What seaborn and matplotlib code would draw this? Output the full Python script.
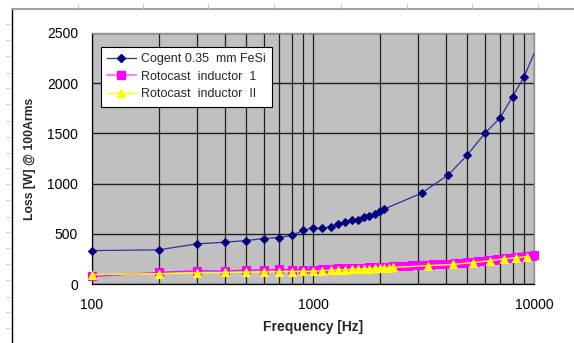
import matplotlib
matplotlib.use("Agg")
import matplotlib.pyplot as plt
import matplotlib.ticker as mticker
from matplotlib.lines import Line2D
import seaborn as sns

sns.set_style("white")
plt.rcParams["font.family"] = ["Liberation Sans", "DejaVu Sans"]

# Cogent 0.35 mm FeSi
freq_cogent = [100, 200, 300, 400, 500, 600, 700, 800, 900, 1000, 1100, 1200, 1300, 1400,
               1500, 1600, 1700, 1800, 1900, 2000, 2100, 3100, 4100, 5000, 6000, 7000,
               8000, 9000, 10000]
loss_cogent = [333, 340, 400, 416, 433, 453, 463, 483, 533, 560, 553, 572, 600, 618,
               636, 640, 667, 673, 700, 730, 746, 905, 1088, 1286, 1503, 1650,
               1866, 2060, 2293]

# Rotocast inductor 1
freq_roto1 = [100, 200, 300, 400, 500, 600, 700, 800, 900, 1000, 1100, 1200, 1300, 1400,
              1500, 1600, 1700, 1800, 1900, 2000, 2100, 2200, 2300,
              2400, 2500, 2600, 2700, 2800, 2900, 3000, 3100, 3200, 3300, 3400, 3500,
              3600, 3700, 3800, 3900, 4000,
              4200, 4400, 4600, 4800, 5000, 5200, 5400, 5600, 5800, 6000, 6200, 6400,
              6600, 6800, 7000, 7200, 7400, 7600, 7800, 8000, 8200, 8400, 8600, 8800,
              9000, 9200, 9400, 9600, 9800, 10000]
loss_roto1 = [75, 115, 132, 128, 138, 140, 145, 143, 143, 143, 147, 152, 155, 157,
              159, 161, 163, 165, 167, 169, 171, 174, 177,
              179, 181, 182, 184, 185, 187, 188, 190, 191, 193, 194, 195,
              196, 197, 198, 199, 200,
              203, 206, 209, 213, 216, 220, 223, 227, 230, 234, 237, 240,
              243, 246, 249, 252, 254, 257, 259, 262, 264, 266, 269, 271,
              273, 276, 278, 280, 282, 285]

# Rotocast inductor II
freq_roto2 = [100, 200, 300, 400, 500, 600, 700, 800, 900, 1000, 1100, 1200, 1300, 1400,
              1500, 1600, 1700, 1800, 1900, 2000, 2100, 2200, 2300, 3300, 4300, 5300,
              6300, 7300, 8300, 9300]
loss_roto2 = [93, 103, 110, 115, 118, 120, 122, 124, 126, 127, 132, 137, 140, 143,
              146, 149, 151, 153, 156, 158, 160, 162, 165, 183, 195, 214,
              232, 250, 261, 273]

fig = plt.figure(figsize=(5.74, 3.43), dpi=100)
ax = fig.add_axes([0.1603, 0.172, 0.770, 0.732])
ax.set_facecolor("#C0C0C0")

sns.lineplot(x=freq_cogent, y=loss_cogent, ax=ax, color="#30309A", linewidth=0.9,
             marker="D", markersize=4.5, markerfacecolor="#000080", markeredgecolor="#000080",
             markevery=list(range(len(freq_cogent) - 1)), zorder=5, clip_on=False)
sns.lineplot(x=freq_roto1, y=loss_roto1, ax=ax, color="#FF00FF", linewidth=1.0,
             marker="s", markersize=6, markerfacecolor="#FF00FF", markeredgecolor="#FF00FF",
             zorder=3, clip_on=False)
sns.lineplot(x=freq_roto2, y=loss_roto2, ax=ax, color="#FFFF00", linewidth=1.0,
             marker="^", markersize=6, markerfacecolor="#FFFF00", markeredgecolor="#FFFF00",
             zorder=4, clip_on=False)

ax.set_xscale("log")
ax.set_xlim(100, 10000)
ax.set_ylim(0, 2500)
ax.set_yticks([0, 500, 1000, 1500, 2000, 2500])
ax.xaxis.set_major_locator(mticker.FixedLocator([100, 1000, 10000]))
ax.xaxis.set_major_formatter(mticker.FixedFormatter(["100", "1000", "10000"]))
ax.xaxis.set_minor_locator(mticker.LogLocator(base=10, subs=range(2, 10)))
ax.xaxis.set_minor_formatter(mticker.NullFormatter())

ax.grid(True, which="major", axis="y", color="#202020", linewidth=1.0)
ax.grid(True, which="both", axis="x", color="#202020", linewidth=0.9)
ax.set_axisbelow(True)

ax.tick_params(axis="both", which="major", direction="out", length=4, width=0.8,
               labelsize=10, colors="black", pad=6)
ax.tick_params(axis="x", which="minor", length=0)
ax.tick_params(axis="x", which="major", pad=6)

for side in ["left", "bottom"]:
    ax.spines[side].set_color("black")
    ax.spines[side].set_linewidth(0.9)
for side in ["top", "right"]:
    ax.spines[side].set_color("#909090")
    ax.spines[side].set_linewidth(1.0)

ax.set_xlabel("Frequency [Hz]", fontsize=10, fontweight="bold", labelpad=6)
ax.set_ylabel("Loss [W] @ 100Arms", fontsize=8.8, fontweight="bold", labelpad=8)

handles = [
    Line2D([], [], color="#30309A", linewidth=0.9, marker="D", markersize=4.5,
           markerfacecolor="#000080", markeredgecolor="#000080"),
    Line2D([], [], color="#FF80FF", linewidth=1.5, marker="s", markersize=6,
           markerfacecolor="#FF00FF", markeredgecolor="#FF00FF"),
    Line2D([], [], color="#FFFF00", linewidth=1.0, marker="^", markersize=6,
           markerfacecolor="#FFFF00", markeredgecolor="#FFFF00"),
]
labels = ["Cogent 0.35  mm FeSi", "Rotocast  inductor  1", "Rotocast  inductor  II"]
leg = ax.legend(handles, labels, loc="upper left", bbox_to_anchor=(0.02, 0.944),
                fontsize=9, frameon=True, fancybox=False, framealpha=1,
                edgecolor="black", handlelength=2.3, labelspacing=0.45,
                borderpad=0.5, handletextpad=0.4, borderaxespad=0)
leg.get_frame().set_linewidth(0.8)

# worksheet frame around the chart
fig.add_artist(Line2D([12 / 574, 12 / 574], [0, 1 - 9 / 343], color="black",
                      linewidth=1.0, transform=fig.transFigure))
fig.add_artist(Line2D([12 / 574, 1], [1 - 9 / 343, 1 - 9 / 343], color="#A0A0A0",
                      linewidth=1.5, transform=fig.transFigure))
for ty in [24, 40, 56, 73, 88, 104, 121, 137, 153, 168, 184, 200, 217, 232, 248, 264,
           280, 297, 312, 328]:
    fig.add_artist(Line2D([6 / 574, 10 / 574], [1 - ty / 343, 1 - ty / 343],
                          color="#D0D0D0", linewidth=0.8, transform=fig.transFigure))
for tx in [78, 143, 208, 274, 341, 407, 472, 538]:
    fig.add_artist(Line2D([tx / 574, tx / 574], [1 - 4 / 343, 1 - 8 / 343],
                          color="#C8C8D8", linewidth=0.8, transform=fig.transFigure))

fig.savefig("out.png", dpi=100, facecolor="white")
